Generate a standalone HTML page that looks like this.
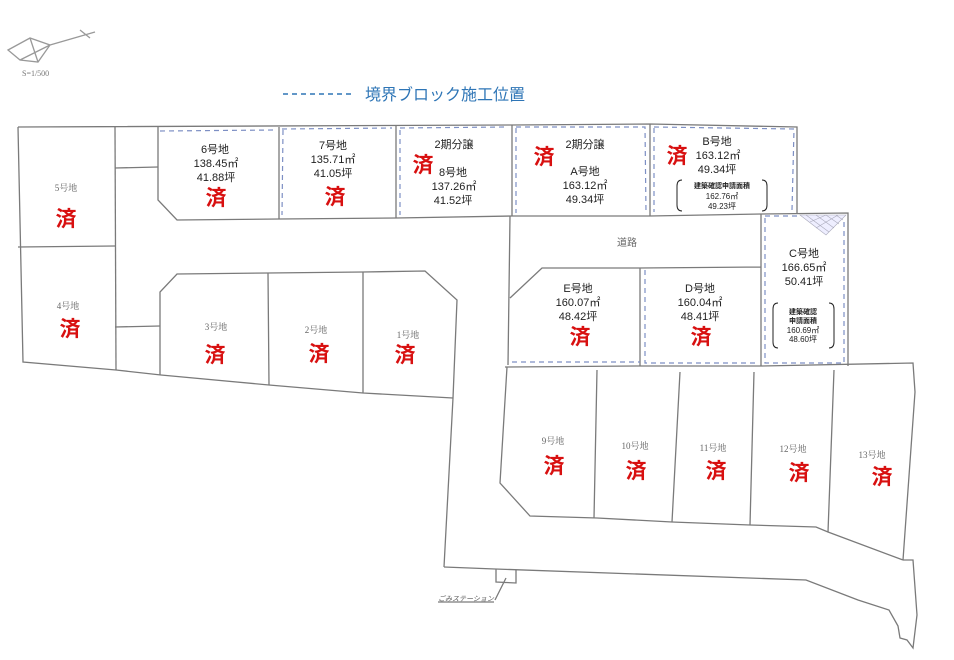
<!DOCTYPE html>
<html><head><meta charset="utf-8"><style>
body{margin:0;background:#fff}
svg{display:block}
text{font-family:"Liberation Sans","Noto Sans CJK JP",sans-serif}
.s{font-family:"Liberation Serif","Noto Serif CJK SC",serif;fill:#666;font-size:9px}
.z{fill:#d81010;font-size:21px;font-weight:bold;font-family:"Liberation Sans","Noto Sans CJK JP",sans-serif}
.t{fill:#222;font-size:11px}
.m{fill:#222;font-size:8px}
</style></head><body>
<svg width="954" height="660" viewBox="0 0 954 660" xmlns="http://www.w3.org/2000/svg">
<g fill="none" stroke="#7a7a7a" stroke-width="1.3">
<path d="M8,50 L30,38 L50,45 L38,62 L20,60 Z M30,38 L38,62 M50,45 L20,60 M50,45 L95,32 M80,30 L90,38" stroke="#999"/>
<path d="M18,127 L512,125 L650,124 L797,127 L797,213"/>
<path d="M18,127 L23,362 L116,370 L161,375 L269,385 L363,393 L453,398"/>
<path d="M18,247 L115,246"/>
<path d="M115,127 L116,370"/>
<path d="M115,168 L158,167 M115,327 L160,326"/>
<path d="M158,127 L158,200 L177,220 L279,219 L396,218 L512,216 L650,216 L761,214"/>
<path d="M279,127 L279,219 M396,126 L396,218 M512,125 L512,216 M650,124 L650,216"/>
<path d="M160,375 L160,292 L177,274 L268,273 L363,272 L425,271 L457,300 L453,398 L444,567"/>
<path d="M268,273 L269,385 M363,272 L363,393"/>
<path d="M510,216 L508,365 M510,298 L542,268 L640,268 L761,267 M640,268 L640,366 M761,214 L761,366"/>
<path d="M761,214 L848,213 L848,366"/>
<path d="M505,367 L640,366 L761,366 L913,363 L915,392 L903,560"/>
<path d="M507,367 L500,483 L530,516 L597,518 L672,522 L750,525 L816,527 L828,532 L903,560"/>
<path d="M597,370 L594,518 M680,372 L672,522 M754,372 L750,525 M834,370 L828,532"/>
<path d="M444,567 L495,569 L806,580 L858,600 L889,610 L898,626 L900,638 L907,640 L913,648 L917,615 L913,560 L903,560"/>
<path d="M496,569 L496,582 L516,583 L516,570 M506,578 L495,600 M438,602 L494,602"/>
</g>
<g stroke="#aab" stroke-width="0.6">
<path d="M800,215 L846,215 L826,235 Z" fill="#eef"/>
<path d="M806,215 L829,232 M816,215 L834,228 M826,215 L839,224 M836,215 L843,220 M810,222 L826,215 M816,228 L838,215"/>
</g>
<g fill="none" stroke="#7d8fc4" stroke-width="1.2" stroke-dasharray="5,4">
<path d="M160,131 L275,130 M282,129 L392,128 M400,128 L508,127 M283,130 L282,215 M400,130 L400,215"/>
<path d="M516,127 L645,127 L646,213 M516,128 L516,213"/>
<path d="M654,127 L794,129 L792,210 M654,128 L654,212"/>
<path d="M645,270 L645,363 L758,363 M512,362 L640,362"/>
<path d="M765,218 L765,363 L844,363 L844,218 M765,216 L800,216"/>
<path d="M283,94 L355,94" stroke="#2e75b6" stroke-width="1.6"/>
</g>
<g fill="none" stroke="#222" stroke-width="1">
<path d="M682,180 Q677,180 677,186 L677,205 Q677,211 682,211 M762,180 Q767,180 767,186 L767,205 Q767,211 762,211"/>
<path d="M778,303 Q773,303 773,309 L773,342 Q773,348 778,348 M829,303 Q834,303 834,309 L834,342 Q834,348 829,348"/>
</g>
<text x="22" y="76" style="font-size:8px;fill:#777;font-family:'Liberation Serif',serif">S=1/500</text>
<text x="365" y="100" style="font-size:16px;fill:#2e75b6">境界ブロック施工位置</text>
<g text-anchor="middle">
<text class="s" x="66" y="191">5号地</text><text class="z" x="66" y="226">済</text>
<text class="s" x="68" y="309">4号地</text><text class="z" x="70" y="336">済</text>
<text class="s" x="216" y="330">3号地</text><text class="z" x="215" y="362">済</text>
<text class="s" x="316" y="333">2号地</text><text class="z" x="319" y="361">済</text>
<text class="s" x="408" y="338">1号地</text><text class="z" x="405" y="362">済</text>
<text class="t" x="215" y="153">6号地</text><text class="t" x="216" y="167">138.45㎡</text><text class="t" x="216" y="181">41.88坪</text><text class="z" x="216" y="205">済</text>
<text class="t" x="333" y="149">7号地</text><text class="t" x="333" y="163">135.71㎡</text><text class="t" x="333" y="177">41.05坪</text><text class="z" x="335" y="204">済</text>
<text class="t" x="454" y="148">2期分譲</text><text class="z" x="423" y="172">済</text><text class="t" x="453" y="176">8号地</text><text class="t" x="454" y="190">137.26㎡</text><text class="t" x="453" y="204">41.52坪</text>
<text class="t" x="585" y="148">2期分譲</text><text class="z" x="544" y="164">済</text><text class="t" x="585" y="175">A号地</text><text class="t" x="585" y="189">163.12㎡</text><text class="t" x="585" y="203">49.34坪</text>
<text class="t" x="717" y="145">B号地</text><text class="z" x="677" y="163">済</text><text class="t" x="718" y="159">163.12㎡</text><text class="t" x="717" y="173">49.34坪</text>
<text class="m" x="722" y="188" style="font-weight:bold;font-size:7px">建築確認申請面積</text><text class="m" x="722" y="199">162.76㎡</text><text class="m" x="722" y="209">49.23坪</text>
<text x="627" y="246" style="font-size:10px;fill:#666">道路</text>
<text class="t" x="578" y="292">E号地</text><text class="t" x="578" y="306">160.07㎡</text><text class="t" x="578" y="320">48.42坪</text><text class="z" x="580" y="344">済</text>
<text class="t" x="700" y="292">D号地</text><text class="t" x="700" y="306">160.04㎡</text><text class="t" x="700" y="320">48.41坪</text><text class="z" x="701" y="344">済</text>
<text class="t" x="804" y="257">C号地</text><text class="t" x="804" y="271">166.65㎡</text><text class="t" x="804" y="285">50.41坪</text>
<text class="m" x="803" y="314" style="font-weight:bold;font-size:7px">建築確認</text><text class="m" x="803" y="323" style="font-weight:bold;font-size:7px">申請面積</text><text class="m" x="803" y="333">160.69㎡</text><text class="m" x="803" y="342">48.60坪</text>
<text class="s" x="553" y="444">9号地</text><text class="z" x="554" y="473">済</text>
<text class="s" x="635" y="449">10号地</text><text class="z" x="636" y="478">済</text>
<text class="s" x="713" y="451">11号地</text><text class="z" x="716" y="478">済</text>
<text class="s" x="793" y="452">12号地</text><text class="z" x="799" y="480">済</text>
<text class="s" x="872" y="458">13号地</text><text class="z" x="882" y="484">済</text>
<text x="466" y="601" style="font-size:7px;fill:#555;font-style:italic">ごみステーション</text>
</g>
</svg>
</body></html>
